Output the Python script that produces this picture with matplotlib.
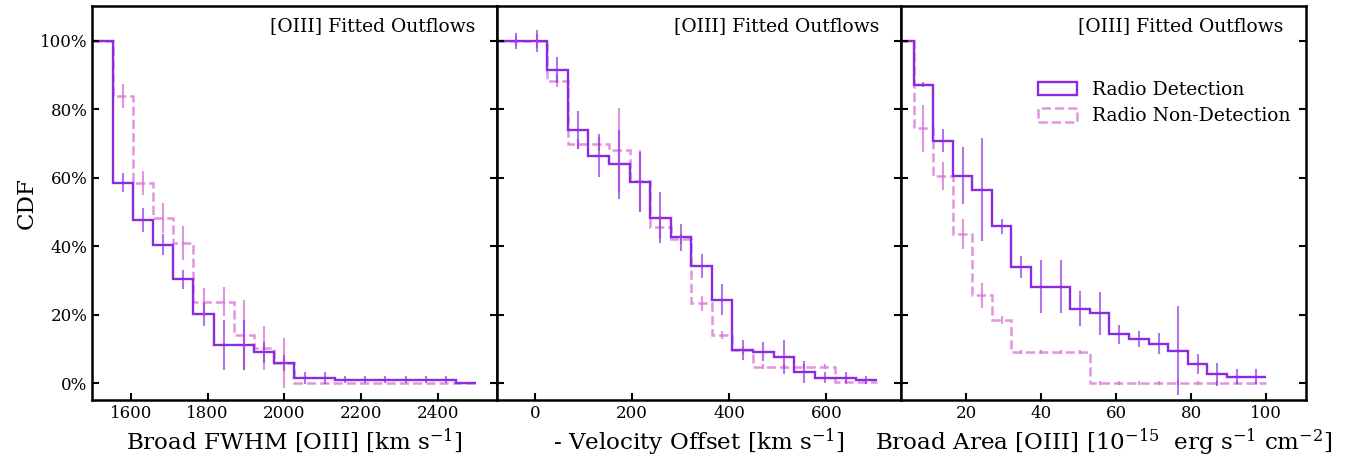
import matplotlib
matplotlib.use('Agg')
import matplotlib.pyplot as plt
import matplotlib.patches as mpatches
from matplotlib.ticker import PercentFormatter
import numpy as np

plt.rcParams['font.family'] = 'DejaVu Serif'
plt.rcParams['mathtext.fontset'] = 'dejavuserif'

# ---- panel 1: broad FWHM [km/s]
fwhm_edges = [1500, 1553, 1605, 1658, 1711, 1763, 1816, 1868, 1921, 1974, 2026,
              2079, 2132, 2184, 2237, 2289, 2342, 2395, 2447, 2500]
fwhm_det = [100, 58.6, 47.7, 40.4, 30.3, 20.1, 11.1, 11.1, 9.0, 5.8,
            1.5, 1.5, 1.0, 1.0, 1.0, 1.0, 1.0, 1.0, 0.1]
fwhm_det_err = [0, 2.8, 3.5, 3.1, 2.8, 3.4, 7.3, 7.4, 3.1, 2.4,
                1.7, 1.7, 1.0, 1.0, 1.0, 1.0, 1.0, 1.0, 0]
fwhm_non = [100, 83.9, 58.6, 48.3, 41.0, 23.8, 23.8, 14.0, 10.3, 5.8,
            0, 0, 0, 0, 0, 0, 0, 0, 0]
fwhm_non_err = [0, 3.4, 3.5, 4.3, 5.0, 3.9, 4.2, 10.3, 6.5, 7.3,
                0, 0, 0, 0, 0, 0, 0, 0, 0]

# ---- panel 2: - velocity offset [km/s]
vel_edges = [-80, -60, -17.6, 24.8, 67.2, 109.6, 152, 194.4, 236.8, 279.2, 321.6,
             364, 406.4, 448.8, 491.2, 533.6, 576, 618.4, 660.8, 703.2]
vel_det = [100, 100, 100, 91.5, 73.9, 66.4, 63.9, 58.7, 48.3, 42.6,
           34.2, 24.4, 9.6, 9.2, 7.6, 3.3, 1.6, 1.6, 0.9]
vel_det_err = [0, 2.4, 3.2, 3.8, 5.6, 6.3, 10.1, 8.8, 7.4, 3.9,
               3.6, 4.6, 2.9, 2.9, 5.0, 3.2, 1.6, 1.6, 1.2]
vel_non = [100, 100, 100, 88.3, 69.8, 69.8, 68.1, 59.0, 45.5, 42.1,
           23.3, 14.0, 9.6, 4.8, 4.8, 4.8, 4.8, 0.3, 0.3]
vel_non_err = [0, 1.5, 2.0, 1.9, 1.5, 2.0, 12.4, 9.0, 3.4, 1.5,
               2.2, 1.2, 1.0, 0.8, 0.8, 0.8, 0.8, 0.5, 0.5]

# ---- panel 3: broad area [1e-15 erg/s/cm2]
area_edges = [2, 6.0, 11.2, 16.4, 21.7, 26.9, 32.1, 37.3, 42.6, 47.8, 53.0,
              58.2, 63.4, 68.7, 73.9, 79.1, 84.3, 89.6, 94.8, 100.0]
area_det = [100, 87.2, 70.8, 60.6, 56.5, 45.8, 33.9, 28.2, 28.2, 21.7,
            20.4, 14.2, 12.9, 11.5, 9.5, 5.6, 2.5, 1.9, 1.9]
area_det_err = [0, 0.8, 3.4, 8.3, 15.0, 2.2, 3.1, 7.7, 7.7, 5.1,
                6.3, 2.7, 2.4, 3.0, 13.1, 2.9, 3.4, 2.3, 2.3]
area_non = [100, 74.4, 60.6, 43.6, 25.6, 18.5, 9.2, 9.2, 9.2, 9.2,
            0, 0, 0, 0, 0, 0, 0, 0, 0]
area_non_err = [0, 7.0, 4.1, 4.4, 3.6, 1.2, 0.6, 0.6, 0.6, 0.6,
                0.6, 0.6, 0.6, 0.6, 0.6, 0.6, 0.6, 0.6, 0.6]

panels = [
    (fwhm_edges, fwhm_det, fwhm_det_err, fwhm_non, fwhm_non_err, (1500, 2553),
     [1600, 1800, 2000, 2200, 2400], r'Broad FWHM [OIII] [km s$^{-1}$]'),
    (vel_edges, vel_det, vel_det_err, vel_non, vel_non_err, (-79, 754),
     [0, 200, 400, 600], r'- Velocity Offset [km s$^{-1}$]'),
    (area_edges, area_det, area_det_err, area_non, area_non_err, (2.7, 110.5),
     [20, 40, 60, 80, 100], r'Broad Area [OIII] [$10^{-15}$  erg s$^{-1}$ cm$^{-2}$]'),
]

det_col = '#8a2be2'
non_col = 'orchid'

fig, axes = plt.subplots(1, 3, figsize=(13.49, 4.55), dpi=100, sharey=True)
plt.subplots_adjust(left=0.0685, right=0.9678, bottom=0.1198, top=0.9868, wspace=0)

for ax, (edges, det, det_err, non, non_err, xlim, xt, xlab) in zip(axes, panels):
    edges = np.array(edges, dtype=float)
    mids = 0.5 * (edges[1:] + edges[:-1])
    det, det_err = np.array(det), np.array(det_err)
    non, non_err = np.array(non), np.array(non_err)

    ax.stairs(non, edges, baseline=None, color=non_col, lw=1.8, ls='--', alpha=0.75)
    m = non_err > 0
    ax.errorbar(mids[m], non[m], yerr=non_err[m], fmt='none', ecolor=non_col,
                elinewidth=1.5, alpha=0.75)
    ax.stairs(det, edges, baseline=None, color=det_col, lw=1.7)
    m = det_err > 0
    ax.errorbar(mids[m], det[m], yerr=det_err[m], fmt='none', ecolor=det_col,
                elinewidth=1.5, alpha=0.65)

    ax.set_xlim(xlim)
    ax.set_ylim(-5.1, 110.2)
    ax.set_xticks(xt)
    ax.set_yticks([0, 20, 40, 60, 80, 100])
    ax.tick_params(direction='in', length=5, width=1.5, labelsize=12,
                   left=True, right=True, top=False)
    for s in ax.spines.values():
        s.set_linewidth(1.8)
    ax.set_xlabel(xlab, fontsize=16.6, labelpad=3)
    ax.text(0.946, 0.972, '[OIII] Fitted Outflows', transform=ax.transAxes,
            ha='right', va='top', fontsize=13.5)

axes[0].yaxis.set_major_formatter(PercentFormatter(xmax=100, decimals=0))
axes[0].set_ylabel('CDF', fontsize=16.6, labelpad=2)

handles = [mpatches.Patch(facecolor='none', edgecolor=det_col, lw=1.7),
           mpatches.Patch(facecolor='none', edgecolor=non_col, lw=1.8, ls='--', alpha=0.75)]
axes[2].legend(handles, ['Radio Detection', 'Radio Non-Detection'], loc='upper left',
               bbox_to_anchor=(0.338, 0.81), frameon=False, fontsize=13.5,
               borderpad=0, borderaxespad=0, handlelength=2.1, handleheight=0.75,
               handletextpad=0.8, labelspacing=0.45)

plt.savefig('out.png', dpi=100)
